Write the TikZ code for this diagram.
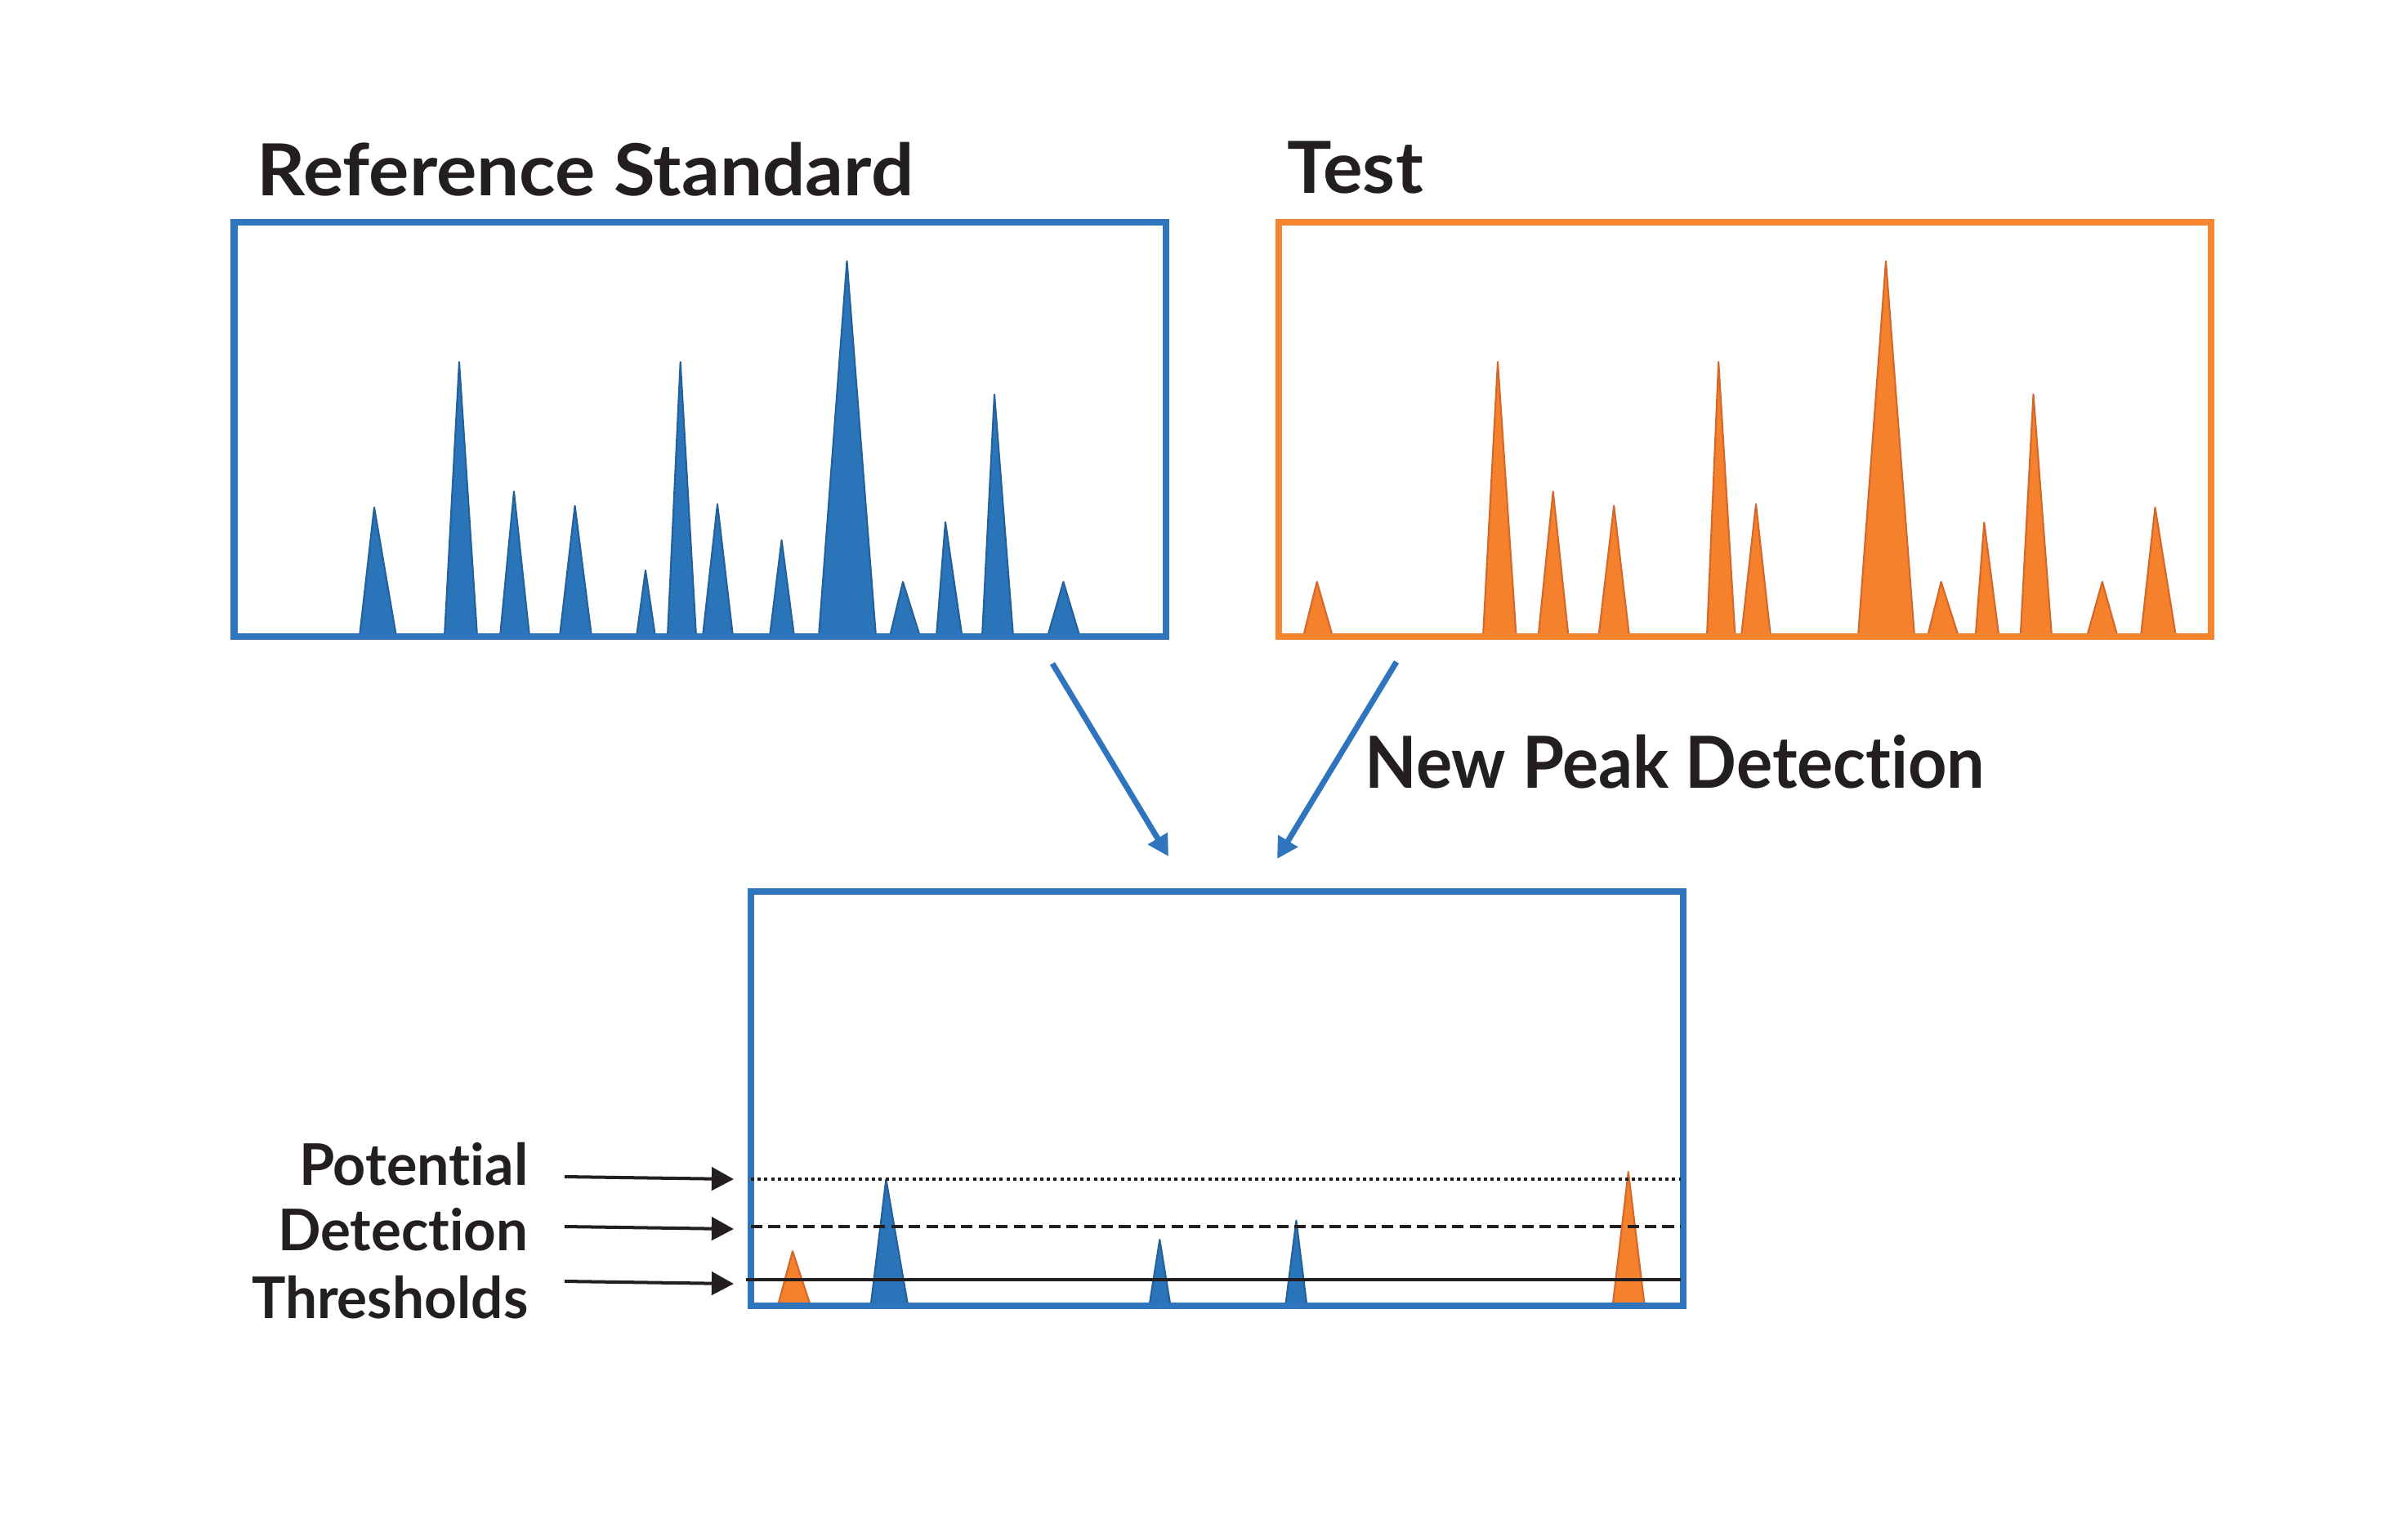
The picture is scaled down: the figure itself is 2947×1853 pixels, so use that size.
\documentclass[tikz,border=0pt]{standalone}
\usepackage{graphicx}
\usepackage{fontspec}
\setmainfont{Lato}[Ligatures=NoCommon]
\usetikzlibrary{arrows.meta}
\definecolor{bluebox}{HTML}{2E75BD}
\definecolor{bluefill}{HTML}{2A74BA}
\definecolor{blueedge}{HTML}{24609A}
\definecolor{orangebox}{HTML}{F5852F}
\definecolor{orangefill}{HTML}{F5812C}
\definecolor{orangeedge}{HTML}{D4672A}
\definecolor{ink}{HTML}{231F20}
\newcommand\fitw[2]{\resizebox{#1}{\height}{#2}}
\begin{document}
\begin{tikzpicture}[x=0.01cm,y=-0.01cm,
  panel/.style={draw, line width=2.28pt, minimum width=11.4cm, minimum height=5.07cm, inner sep=0pt, outer sep=0pt, anchor=north west},
  bpeak/.style={fill=bluefill, draw=blueedge, line width=0.6pt, line join=round},
  opeak/.style={fill=orangefill, draw=orangeedge, line width=0.6pt, line join=round},
  title/.style={font=\bfseries\fontsize{25}{30}\selectfont, text=ink, inner sep=0pt, anchor=base west},
  lab/.style={font=\bfseries\fontsize{20}{24}\selectfont, text=ink, inner sep=0pt, anchor=base east},
  flow/.style={draw=bluebox, line width=2pt, -{Triangle[length=7.3pt,width=7.6pt]}},
  tharrow/.style={draw=ink, line width=1.14pt, -{Triangle[length=7.7pt,width=8pt]}},
  thr/.style={draw=ink, line width=1.14pt}
]
\useasboundingbox (0,0) rectangle (2947,1853);

% peaks of reference standard
\foreach \l/\ax/\ay/\r in {440/458/621/485, 544/562/443/584, 612/629/601.5/648,
  685/703.6/619/724, 779/790/698/802, 817/832.7/443/852, 860/878/617/897,
  942/956.6/661/972, 1002/1036.5/319.5/1072, 1089/1105/712/1126,
  1146/1157/639/1177.5, 1202/1217/482.6/1240, 1282/1301.4/712/1321.5}
  \filldraw[bpeak] (\l,779) -- (\ax,\ay) -- (\r,779) -- cycle;

% peaks of test
\foreach \l/\ax/\ay/\r in {1595/1611.7/712/1631, 1815/1833/443/1855.6,
  1882.6/1900.7/601.5/1919.5, 1956.4/1975.2/619/1994, 2089/2103.2/443/2123.5,
  2131/2149/617/2167, 2274/2308/319.5/2343, 2359/2375.6/712/2397,
  2417.7/2428.3/639.5/2446.4, 2472.7/2488.5/482.6/2511, 2554/2572.8/712/2591.6,
  2620/2637.5/621/2663}
  \filldraw[opeak] (\l,779) -- (\ax,\ay) -- (\r,779) -- cycle;

% peaks of new peak detection
\filldraw[opeak] (952.7,1595) -- (970,1531) -- (991,1595) -- cycle;
\filldraw[bpeak] (1066,1595) -- (1084.4,1443) -- (1110.7,1595) -- cycle;
\filldraw[bpeak] (1407,1595) -- (1419.3,1517) -- (1432,1595) -- cycle;
\filldraw[bpeak] (1573.6,1595) -- (1586.4,1493.6) -- (1599,1595) -- cycle;
\filldraw[opeak] (1974,1595) -- (1992.8,1434) -- (2012.4,1595) -- cycle;

% panels
\node[panel, draw=bluebox] (ref) at (286.5,271.5) {};
\node[panel, draw=orangebox] (test) at (1565,272) {};
\node[panel, draw=bluebox] (det) at (919,1090.5) {};

% threshold lines
\coordinate (t1a) at (919,1443); \coordinate (t1b) at (2057,1443);
\coordinate (t2a) at (919,1501); \coordinate (t2b) at (2057,1501);
\coordinate (t3a) at (913,1566); \coordinate (t3b) at (2057,1566);
\draw[thr, dash pattern=on 1.14pt off 1.2pt] (t1a) -- (t1b);
\draw[thr, dash pattern=on 4pt off 2.1pt] (t2a) -- (t2b);
\draw[thr] (t3a) -- (t3b);

% titles
\node[title] (reftitle) at (314,239) {\fitw{8.03cm}{Reference Standard}};
\node[title] (testtitle) at (1575,236) {\fitw{1.66cm}{Test}};
\node[title] (newpeak) at (1670,964) {\fitw{7.58cm}{New Peak Detection}};

% flow arrows
\coordinate (f1s) at (1288,812); \coordinate (f1e) at (1430,1048);
\coordinate (f2s) at (1709,810); \coordinate (f2e) at (1563,1051);
\draw[flow] (f1s) -- (f1e);
\draw[flow] (f2s) -- (f2e);

% threshold labels
\node[lab] (l1) at (647,1450) {\fitw{2.8cm}{Potential}};
\node[lab] (l2) at (647,1530) {\fitw{3.06cm}{Detection}};
\node[lab] (l3) at (647,1613) {\fitw{3.38cm}{Thresholds}};
\coordinate (a1s) at (691,1440); \coordinate (a1e) at (898,1443);
\coordinate (a2s) at (691,1501); \coordinate (a2e) at (898,1504);
\coordinate (a3s) at (691,1568); \coordinate (a3e) at (898,1571);
\draw[tharrow] (a1s) -- (a1e);
\draw[tharrow] (a2s) -- (a2e);
\draw[tharrow] (a3s) -- (a3e);
\end{tikzpicture}
\end{document}
